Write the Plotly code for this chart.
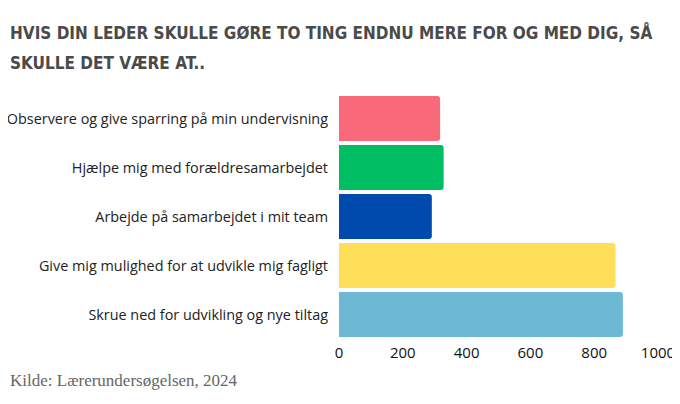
import plotly.graph_objects as go

# survey answers, top to bottom as in the chart
categories = [
    "Observere og give sparring på min undervisning",
    "Hjælpe mig med forældresamarbejdet",
    "Arbejde på samarbejdet i mit team",
    "Give mig mulighed for at udvikle mig fagligt",
    "Skrue ned for udvikling og nye tiltag",
]
values = [317, 328, 291, 867, 890]
colors = ["#F86A7A", "#00BF63", "#004AAD", "#FFDE59", "#6CB9D5"]

title_lines = ["HVIS DIN LEDER SKULLE GØRE TO TING ENDNU MERE FOR OG MED DIG, SÅ",
               "SKULLE DET VÆRE AT.."]
source_text = "Kilde: Lærerundersøgelsen, 2024"
x_ticks = [0, 200, 400, 600, 800, 1000]

# the page body adds an 8px margin, so the figure is 8px smaller than the window
W, H = 672, 396
L, R, T, B = 331, 22, 86, 65
pw, ph = W - L - R, H - T - B

fig = go.Figure(go.Bar(
    x=values,
    y=categories,
    orientation="h",
    marker=dict(color=colors, line=dict(width=0)),
    hoverinfo="x+y",
))

fig.update_layout(
    width=W, height=H,
    margin=dict(l=L, r=R, t=T, b=B),
    paper_bgcolor="white", plot_bgcolor="white",
    bargap=0.08,
    barcornerradius=3,
    showlegend=False,
    font=dict(family="Open Sans", size=14, color="#222"),
)

fig.update_xaxes(
    range=[0, 1000], tickvals=x_ticks,
    showgrid=False, zeroline=False, showline=False,
    ticklabelstandoff=3,
    tickfont=dict(size=15, color="#111"),
    automargin=False, fixedrange=True,
)
fig.update_yaxes(
    categoryorder="array", categoryarray=categories[::-1],
    showgrid=False, showline=False, ticks="",
    ticklabelstandoff=10,
    tickfont=dict(size=14.4, color="#222"),
    automargin=False, fixedrange=True,
)

# title: two lines placed like the reference (pixel y of line centres)
for line, yc in zip(title_lines, [24, 55]):
    fig.add_annotation(
        text=line, xref="paper", yref="paper",
        x=-L / pw, y=1 + (T - yc) / ph, xanchor="left", yanchor="middle",
        align="left", showarrow=False,
        font=dict(family="DejaVu Sans Condensed", size=17, weight="bold", color="#4a4a4a"),
    )
fig.add_annotation(
    text=source_text, xref="paper", yref="paper",
    x=-L / pw, y=-(372 - (H - B)) / ph, xanchor="left", yanchor="middle",
    align="left", showarrow=False,
    font=dict(family="Liberation Serif", size=17, color="#666"),
)

fig.write_html("out.html")
